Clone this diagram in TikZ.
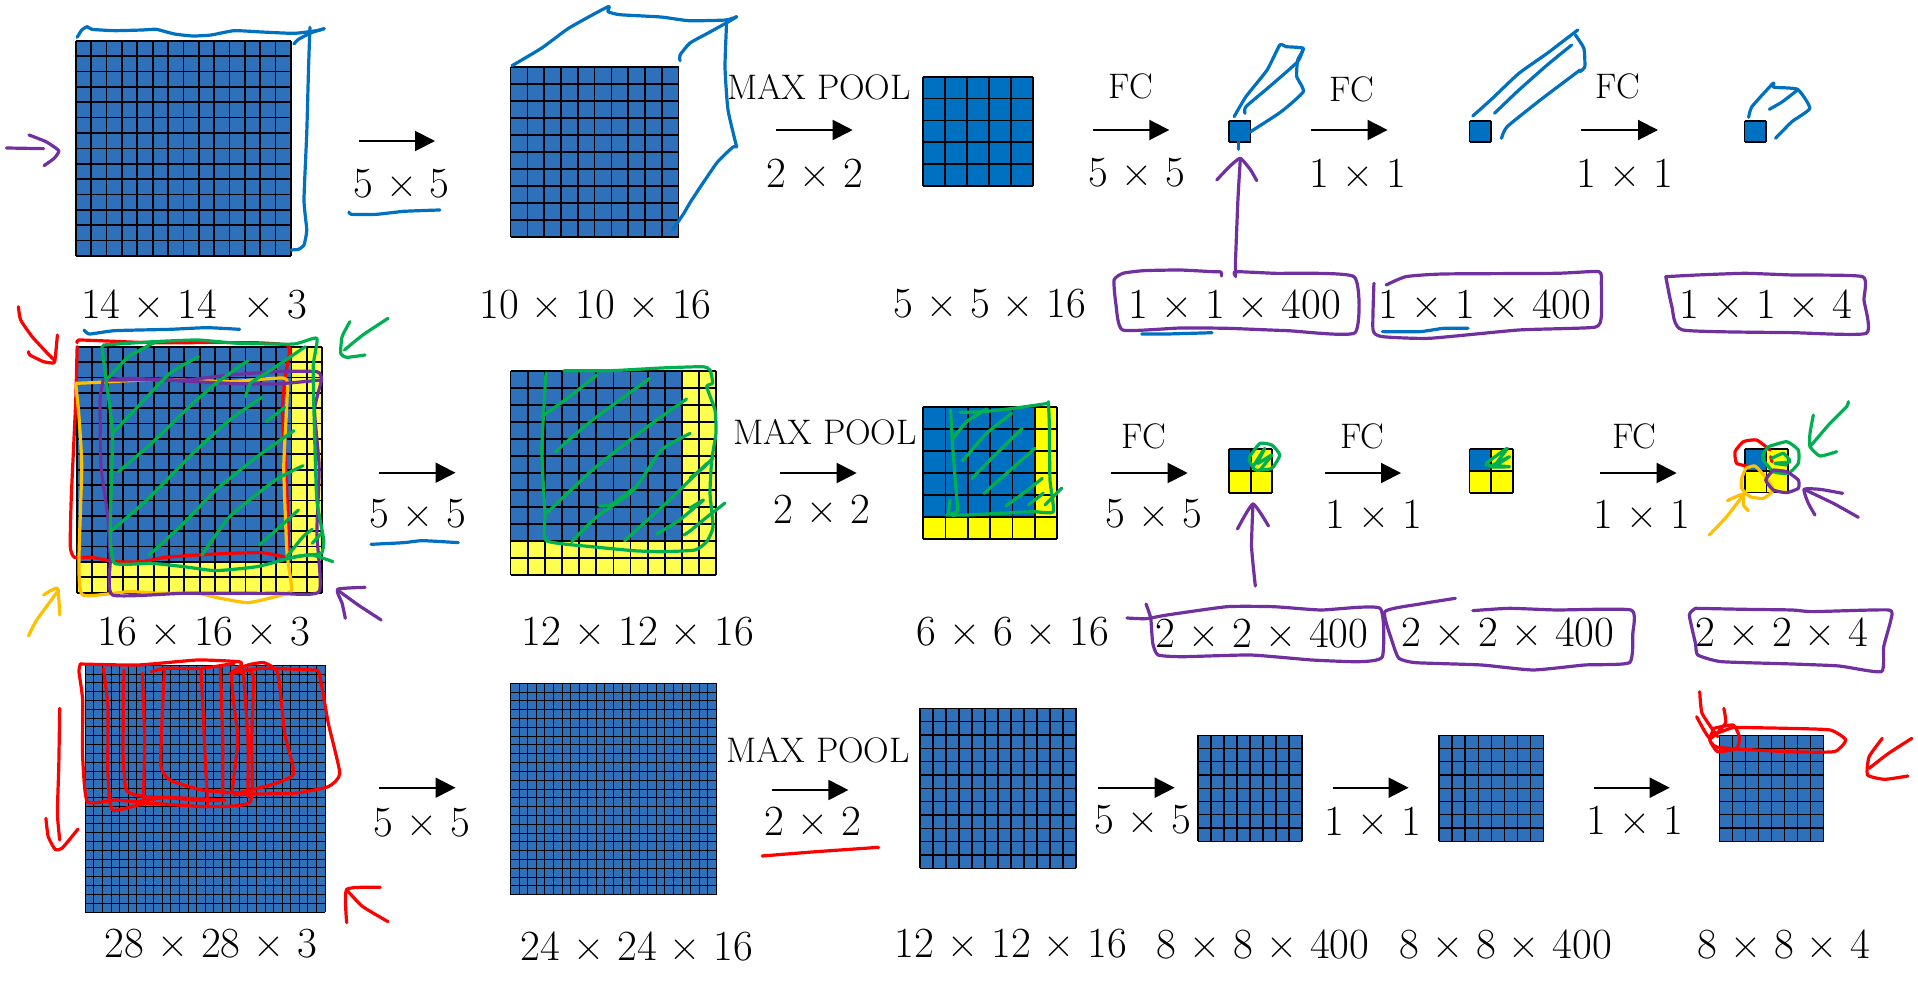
\documentclass[tikz,border=0pt]{standalone}
\usepackage{xcolor}
\usetikzlibrary{arrows.meta, positioning}
\definecolor{gridblue}{RGB}{46,112,186}
\definecolor{cellblue}{RGB}{0,112,192}
\definecolor{softyellow}{RGB}{255,255,80}
\definecolor{cellyellow}{RGB}{255,255,0}
\definecolor{inkblue}{RGB}{0,112,192}
\definecolor{inkpurple}{RGB}{112,48,160}
\definecolor{inkgreen}{RGB}{0,176,80}
\definecolor{inkred}{RGB}{255,0,0}
\definecolor{inkorange}{RGB}{255,192,0}
% lw, x0, y0, x1, y1, cells, blue cells, blue, yellow
\newcommand{\cellgrid}[9][1.7pt]{%
	\fill[#9] (#2,#3) rectangle (#4,#5);
	\fill[#8] (#2,#3) rectangle ({#2+#7*(#4-#2)/#6},{#3+#7*(#5-#3)/#6});
	\foreach \i in {0,...,#6} {
		\draw[line width=#1] ({#2+\i*(#4-#2)/#6},#3) -- ({#2+\i*(#4-#2)/#6},#5);
		\draw[line width=#1] (#2,{#3+\i*(#5-#3)/#6}) -- (#4,{#3+\i*(#5-#3)/#6});
	}
}
\newcommand{\ink}[2]{\draw[pen,#1] plot[smooth,tension=0.3] coordinates {#2};}
\begin{document}
\begin{tikzpicture}[
		x=1pt, y=-1pt,
		pen/.style={line width=3.2pt, line cap=round, line join=round},
		dimlabel/.style={font=\fontsize{43}{48}\selectfont, inner sep=0pt},
		oplabel/.style={font=\fontsize{35.5}{40}\selectfont, inner sep=0pt},
		flowarrow/.style={-{Triangle[length=20pt,width=20pt]}, line width=2pt},
		leftzoom/.style={x=0.4592pt, y=-0.3333pt},
		rightzoom/.style={x=0.4707pt, y=-0.3333pt},
		wholezoom/.style={x=0.3333pt, y=-0.3333pt},
		lowzoom/.style={x=0.7768pt, y=-0.3333pt}
	]
	\useasboundingbox (0,0) rectangle (1918,980);
	% top row
	\cellgrid{75.8}{40.7}{291}{256}{14}{14}{gridblue}{softyellow}
	\cellgrid{510.6}{66.7}{678.6}{236.7}{10}{10}{gridblue}{softyellow}
	\cellgrid{923.3}{76.7}{1032.7}{186}{5}{5}{cellblue}{cellyellow}
	\cellgrid{1229}{120.7}{1250.6}{142.3}{1}{1}{cellblue}{cellyellow}
	\cellgrid{1469.5}{120.7}{1490.7}{142.3}{1}{1}{cellblue}{cellyellow}
	\cellgrid{1744.5}{120.7}{1766}{142.3}{1}{1}{cellblue}{cellyellow}
	% middle row
	\cellgrid{77}{346.7}{322.3}{592.7}{16}{14}{gridblue}{softyellow}
	\cellgrid{510.6}{370.7}{716.3}{575.3}{12}{10}{gridblue}{softyellow}
	\cellgrid{923.3}{406.7}{1057.3}{539}{6}{5}{cellblue}{cellyellow}
	\cellgrid{1229}{448.7}{1272.3}{493.3}{2}{1}{cellblue}{cellyellow}
	\cellgrid{1469.5}{448.7}{1512.9}{493.3}{2}{1}{cellblue}{cellyellow}
	\cellgrid{1745}{449}{1788}{492.5}{2}{1}{cellblue}{cellyellow}
	% bottom row
	\cellgrid[1pt]{85.4}{665.3}{325}{912}{28}{28}{gridblue}{softyellow}
	\cellgrid[1pt]{510.6}{683.3}{716.3}{894.7}{24}{24}{gridblue}{softyellow}
	\cellgrid[1.3pt]{920}{708.3}{1076}{868.3}{12}{12}{gridblue}{softyellow}
	\cellgrid[1.3pt]{1198}{735.3}{1302}{841.3}{8}{8}{gridblue}{softyellow}
	\cellgrid[1.3pt]{1438.9}{735.3}{1543.8}{841.3}{8}{8}{gridblue}{softyellow}
	\cellgrid[1.3pt]{1719.4}{735.3}{1823.5}{841.3}{8}{8}{gridblue}{softyellow}

	\foreach \name/\xa/\xb/\yy in {a1/359/435/141, a2/776/852.7/130, a3/1093.3/1169.3/130, a4/1310.9/1387.6/130, a5/1581/1658/130,
		b1/378.8/455.5/472.7, b2/780/856.7/473, b3/1111/1187.7/473, b4/1325/1401/473, b5/1600/1676.7/473,
		c1/378.8/455.5/787.7, c2/772/848.4/790, c3/1097.8/1174.7/787.7, c4/1332.5/1408.6/787.7, c5/1593.5/1669.7/787.7} {
		\coordinate (\name s) at (\xa,\yy);
		\coordinate (\name e) at (\xb,\yy);
		\draw[flowarrow] (\name s) -- (\name e);
	}

	\node[dimlabel] (d1) at (194,304) {14 × 14\ \ × 3};
	\node[dimlabel] (d2) at (595.5,304.5) {10 × 10 × 16};
	\node[dimlabel] (d3) at (990,304) {5 × 5 × 16};
	\node[dimlabel] (d4) at (1234.7,304) {1 × 1 × 400};
	\node[dimlabel] (d5) at (1485,304) {1 × 1 × 400};
	\node[dimlabel] (d6) at (1766,304) {1 × 1 × 4};
	\node[dimlabel] (d7) at (204,632) {16 × 16 × 3};
	\node[dimlabel] (d8) at (638,632) {12 × 12 × 16};
	\node[dimlabel] (d9) at (1013,632) {6 × 6 × 16};
	\node[dimlabel] (d10) at (1262,633) {2 × 2 × 400};
	\node[dimlabel] (d11) at (1508,632) {2 × 2 × 400};
	\node[dimlabel] (d12) at (1782,632) {2 × 2 × 4};
	\node[dimlabel] (d13) at (211,944) {28 × 28 × 3};
	\node[dimlabel] (d14) at (637,946) {24 × 24 × 16};
	\node[dimlabel] (d15) at (1011,944) {12 × 12 × 16};
	\node[dimlabel] (d16) at (1263,944.5) {8 × 8 × 400};
	\node[dimlabel] (d17) at (1505.7,944.5) {8 × 8 × 400};
	\node[dimlabel] (d18) at (1784,944) {8 × 8 × 4};

	\node[dimlabel] (k1) at (401.5,184) {5 × 5};
	\node[dimlabel] (k2) at (815,173) {2 × 2};
	\node[dimlabel] (k3) at (1137,173) {5 × 5};
	\node[dimlabel] (k4) at (1358,173) {1 × 1};
	\node[dimlabel] (k5) at (1625,173) {1 × 1};
	\node[dimlabel] (k6) at (418,514) {5 × 5};
	\node[dimlabel] (k7) at (822,509) {2 × 2};
	\node[dimlabel] (k8) at (1154,514) {5 × 5};
	\node[dimlabel] (k9) at (1374,514) {1 × 1};
	\node[dimlabel] (k10) at (1642,514) {1 × 1};
	\node[dimlabel] (k11) at (422,823) {5 × 5};
	\node[dimlabel] (k12) at (812.6,821) {2 × 2};
	\node[dimlabel] (k13) at (1143,819.5) {5 × 5};
	\node[dimlabel] (k14) at (1373,821) {1 × 1};
	\node[dimlabel] (k15) at (1635,820) {1 × 1};

	\node[oplabel] (m1) at (819,87) {MAX POOL};
	\node[oplabel] (m2) at (825,432) {MAX POOL};
	\node[oplabel] (m3) at (818,750) {MAX POOL};
	\node[oplabel] (f1) at (1131,86) {FC};
	\node[oplabel] (f2) at (1352,89) {FC};
	\node[oplabel] (f3) at (1618,86) {FC};
	\node[oplabel] (f4) at (1144,436) {FC};
	\node[oplabel] (f5) at (1362.5,436) {FC};
	\node[oplabel] (f6) at (1634.5,436) {FC};

	% pen strokes, top left
	\begin{scope}[leftzoom]
		\ink{inkblue}{(168,112)(178,90)(190,80)(200,88)(250,92)(310,90)(340,88)(380,102)(420,108)(460,105)(510,92)(570,96)(640,100)(690,92)(706,86)}
		\ink{inkblue}{(640,132)(650,118)(678,98)(706,86)}
		\ink{inkblue}{(675,82)(672,200)(668,400)(662,600)(668,690)(662,735)(650,748)(634,750)}
		\ink{inkpurple}{(14,444)(95,446)}
		\ink{inkpurple}{(63,405)(100,425)(128,452)(118,475)(96,497)}
		\ink{inkblue}{(760,636)(765,643)(820,643)(880,634)(958,630)}
	\end{scope}
	\ink{inkblue}{(512,65.7)(541.8,48)(569,28)(608,6.7)(608,11.7)(620,14.7)(661,17)(689,20.7)(726,20)(736.7,16.7)}
	\ink{inkblue}{(680,60.7)(680,55)(690,43)(710,32)(728,22)(736.7,16.7)}
	\ink{inkblue}{(726.7,20)(725,67)(728,110)(736.7,147)}
	\ink{inkblue}{(736,147)(733,147)(716.7,163)(691.7,200)(684,213)(672.6,230)}

	% pen strokes, middle left
	\begin{scope}[leftzoom, shift={(0pt,-300pt)}]
		\ink{inkblue}{(183,90)(195,102)(250,92)(370,88)(450,83)(522,88)}
		\ink{inkred}{(168,128)(172,120)(250,124)(330,128)(550,128)(625,135)(630,160)(620,240)(615,330)(622,500)(628,700)(625,770)(610,768)(570,758)(500,760)(430,765)(360,772)(310,785)(250,785)(200,772)(162,772)(153,740)(155,600)(160,450)(165,300)(168,140)}
		\ink{inkred}{(40,20)(45,60)(70,110)(100,155)(118,180)}
		\ink{inkred}{(125,105)(122,150)(118,188)(95,185)(65,165)(62,155)}
		\ink{inkorange}{(165,250)(200,248)(350,238)(500,245)(620,235)(625,300)(618,500)(625,760)(635,870)(600,890)(540,908)(480,895)(430,880)(350,880)(280,875)(180,885)(172,780)(178,500)(172,350)(165,250)}
		\ink{inkorange}{(62,1008)(80,960)(128,870)}
		\ink{inkorange}{(95,885)(125,865)(130,945)}
		\ink{inkpurple}{(225,240)(280,235)(400,240)(500,225)(600,215)(690,215)(700,240)(685,330)(695,500)(690,700)(695,875)(600,880)(400,880)(245,885)(240,780)(235,650)(220,500)(218,300)(225,240)}
		\ink{inkpurple}{(230,240)(350,240)(500,250)(600,252)(700,240)}
		\ink{inkpurple}{(830,960)(780,915)(735,870)}
		\ink{inkpurple}{(795,862)(735,868)(745,910)(752,955)}
		\ink{inkgreen}{(225,135)(335,125)(430,120)(520,130)(640,132)(690,115)(682,200)(685,400)(690,600)(705,720)(700,760)(670,765)(630,775)(560,800)(470,812)(400,800)(330,790)(250,790)(240,700)(245,400)(232,250)(222,140)}
		\ink{inkgreen}{(640,770)(680,765)(725,785)}
		\ink{inkgreen}{(845,55)(790,105)(750,150)}
		\ink{inkgreen}{(762,65)(745,110)(742,160)(755,172)(795,165)}
		\ink{inkgreen}{(340,125)(280,170)(235,235)}
		\ink{inkgreen}{(245,400)(300,320)(370,220)(432,170)}
		\ink{inkgreen}{(258,515)(330,430)(420,310)(480,240)(540,182)}
		\ink{inkgreen}{(240,695)(320,600)(420,460)(500,360)(570,292)}
		\ink{inkgreen}{(325,765)(400,670)(470,570)(560,470)(640,392)}
		\ink{inkgreen}{(440,765)(500,650)(600,540)(660,497)}
		\ink{inkgreen}{(565,735)(610,680)(650,630)}
		\ink{inkgreen}{(625,770)(660,710)(680,688)}
		\ink{inkgreen}{(680,730)(700,700)}
		\ink{inkgreen}{(580,365)(620,322)}
		\ink{inkgreen}{(535,290)(545,250)(590,210)(665,140)}
		\ink{inkblue}{(808,733)(880,728)(920,722)(998,728)}
		\ink{inkgreen}{(1180,350)(1240,290)(1300,225)}
		\ink{inkgreen}{(1210,455)(1290,360)(1415,235)}
		\ink{inkgreen}{(1190,640)(1290,510)(1400,390)(1495,297)}
		\ink{inkgreen}{(1245,725)(1300,650)(1380,570)(1440,450)(1503,400)}
		\ink{inkgreen}{(1305,618)(1330,615)(1380,565)}
		\ink{inkgreen}{(1360,722)(1450,610)(1540,490)}
		\ink{inkgreen}{(1430,702)(1480,660)(1532,600)}
	\end{scope}
	\ink{inkgreen}{(564,370.7)(610.6,370.7)(661,368)(702.5,366.7)(710,370)(712.7,383)(706.7,386.7)(715,410)(716,433)(711.7,460)(710,493)(713,527)(706.7,541.7)(695,550)(661,551.7)(633.6,550.7)(592,546.7)(546.4,540.7)(545,513)(541.8,450)(546,373)}
	\ink{inkgreen}{(690,478)(703,468)(713,458)}
	\ink{inkgreen}{(690,508)(703,500)}
	\ink{inkgreen}{(684,535)(690,531)(707,517)(725,503)}

	\begin{scope}[wholezoom, shift={(700pt,-380pt)}]
		\ink{inkgreen}{(752,90)(758,200)(770,350)(772,395)(740,405)(800,405)(900,400)(1000,395)(1060,395)(1050,300)(1048,130)(1045,65)}
		\ink{inkgreen}{(780,97)(850,95)(940,85)(1045,70)}
		\ink{inkgreen}{(750,360)(745,400)}
		\ink{inkgreen}{(760,175)(800,125)(860,87)}
		\ink{inkgreen}{(788,242)(860,160)(935,100)}
		\ink{inkgreen}{(815,296)(880,230)(965,147)}
		\ink{inkgreen}{(852,340)(920,280)(1005,205)}
		\ink{inkgreen}{(918,378)(970,340)(1027,295)}
		\ink{inkgreen}{(985,375)(1030,340)}
		\ink{inkgreen}{(1035,375)(1085,325)}
	\end{scope}

	% pen strokes, top right
	\ink{inkpurple}{(1221.5,276)(1221,272)(1213,271.7)(1180,270)(1143,270.7)(1123,273.3)(1114,280)(1116,305)(1122.7,330)(1180,328)(1227,328.3)(1288,330.7)(1355,332.7)(1354,276.7)(1274,273.3)(1235.5,271.7)(1235.5,276)}
	\ink{inkblue}{(1141.7,334)(1166.7,334)(1212,332.7)}
	\begin{scope}[rightzoom, shift={(1180pt,0pt)}]
		\ink{inkpurple}{(118,830)(118,780)(123,600)(128,480)}
		\ink{inkpurple}{(78,540)(105,500)(128,475)(150,510)(163,542)}
		\ink{inkblue}{(125,425)(125,448)}
		\ink{inkblue}{(115,350)(140,290)(185,210)(212,135)(225,140)(262,145)(250,180)(248,230)(262,275)(215,335)(150,395)}
		\ink{inkblue}{(262,145)(250,185)(190,260)(140,320)(138,340)}
		\ink{inkblue}{(622,348)(660,300)(720,220)(780,160)(845,90)}
		\ink{inkblue}{(840,105)(858,145)(860,200)(850,215)}
		\ink{inkblue}{(668,340)(720,270)(780,195)(832,135)}
		\ink{inkblue}{(683,415)(695,380)(770,295)(850,210)}
		\ink{inkblue}{(1208,352)(1215,320)(1260,250)(1262,262)(1312,268)(1338,325)(1300,365)(1265,415)}
		\ink{inkblue}{(1252,328)(1280,305)(1312,270)}
		\ink{inkblue}{(430,995)(510,995)(560,985)(612,985)}
		\ink{inkpurple}{(412,850)(410,990)(430,1010)(530,1015)(720,990)(880,982)(895,950)(895,850)(890,815)(800,820)(560,822)(480,830)(438,855)}
		\ink{inkpurple}{(1032,830)(1100,825)(1200,820)(1300,825)(1450,830)(1453,900)(1458,1000)(1300,998)(1068,990)(1045,920)(1032,830)}
	\end{scope}

	% pen strokes, middle right
	\ink{inkpurple}{(1127,618)(1146,618.7)(1167,615)(1227,606.7)(1274,606.7)(1321,610)(1380,608.3)(1382.4,656.7)(1359,661.7)(1312,660)(1250.6,655)(1183,656.7)(1158,655)(1152.7,643)(1150.7,618)(1146,604)}
	\begin{scope}[rightzoom, shift={(1180pt,-380pt)}]
		\ink{inkpurple}{(160,618)(152,500)(155,372)}
		\ink{inkpurple}{(122,447)(155,372)(188,438)}
		\ink{inkgreen}{(150,225)(170,190)(195,195)(212,225)(195,265)(160,270)(147,240)(150,225)}
		\ink{inkgreen}{(155,260)(180,205)(165,250)(195,225)(170,270)}
		\ink{inkgreen}{(650,250)(695,205)(670,255)(700,230)(660,260)(700,260)(650,255)}
		\ink{inkpurple}{(585,655)(510,672)(435,695)(452,790)(465,835)(500,848)(640,855)(750,870)(860,855)(955,848)(962,760)(958,690)(800,690)(700,685)(622,692)}
		\ink{inkpurple}{(1095,685)(1082,705)(1095,790)(1100,825)(1150,845)(1300,852)(1400,858)(1490,875)(1495,800)(1510,720)(1505,690)(1345,695)(1300,690)(1200,688)(1095,685)}
	\end{scope}
	\begin{scope}[wholezoom, shift={(1600pt,-400pt)}]
		\ink{inkred}{(510,150)(470,120)(430,125)(405,155)(410,190)(450,200)}
		\ink{inkred}{(512,170)(516,185)}
		\ink{inkorange}{(437,205)(465,198)(495,230)(520,270)(490,295)(450,290)(425,265)(425,235)(437,205)}
		\ink{inkgreen}{(505,140)(560,125)(595,150)(595,190)(565,220)(520,215)(490,180)(490,160)(505,140)}
		\ink{inkgreen}{(515,175)(550,160)(570,185)(525,190)(560,195)}
		\ink{inkpurple}{(520,210)(560,215)(595,240)(595,265)(560,278)(520,270)(497,240)(520,210)}
		\ink{inkgreen}{(745,5)(740,20)(690,70)(630,140)}
		\ink{inkgreen}{(640,45)(630,100)(630,140)(660,168)(710,155)}
		\ink{inkpurple}{(775,352)(700,310)(612,268)}
		\ink{inkpurple}{(728,280)(660,268)(612,268)(625,310)(645,345)}
		\ink{inkorange}{(328,405)(380,350)(430,285)}
		\ink{inkorange}{(382,302)(430,282)(430,315)(445,332)}
	\end{scope}

	% pen strokes, bottom row
	\begin{scope}[leftzoom, shift={(0pt,-640pt)}]
		\ink{inkred}{(175,72)(172,95)(180,180)(180,350)(190,485)(250,480)(300,485)(360,472)(420,480)(490,482)}
		\ink{inkred}{(175,72)(300,75)(430,60)(520,65)(525,75)(505,100)(540,90)(552,115)(548,300)(545,485)(450,500)(320,490)(245,510)(235,400)(235,200)(225,85)}
		\ink{inkred}{(270,90)(268,330)(275,450)(315,470)(420,475)(490,480)}
		\ink{inkred}{(310,100)(315,300)(312,490)}
		\ink{inkred}{(330,95)(360,85)(440,85)(510,70)}
		\ink{inkred}{(358,90)(350,370)(370,420)(440,450)(520,458)(600,430)(640,400)(620,280)(605,100)(575,68)(540,75)(505,100)(510,200)(518,300)(505,460)}
		\ink{inkred}{(438,85)(445,300)(452,495)}
		\ink{inkred}{(480,80)(485,300)(485,465)}
		\ink{inkred}{(530,95)(540,300)(540,470)}
		\ink{inkred}{(500,100)(570,85)(680,90)(695,100)(715,250)(740,400)(715,440)(640,460)(540,462)(510,465)}
		\ink{inkred}{(130,205)(128,380)(125,520)(130,600)}
		\ink{inkred}{(100,535)(105,590)(120,628)(135,625)(170,567)}
		\ink{inkred}{(845,845)(790,800)(755,750)}
		\ink{inkred}{(828,742)(755,748)(755,848)}
	\end{scope}
	\begin{scope}[lowzoom, shift={(700pt,-640pt)}]
		\ink{inkred}{(80,648)(150,635)(230,622)}
		\ink{inkred}{(1287,155)(1290,220)(1310,290)}
		\ink{inkred}{(1283,230)(1300,295)(1320,250)(1318,205)}
		\ink{inkred}{(1305,265)(1330,255)(1338,290)(1335,325)(1310,335)(1300,300)(1305,265)}
		\ink{inkred}{(1330,262)(1400,265)(1455,270)(1475,300)(1460,335)(1400,335)(1310,322)(1300,290)(1330,262)}
		\ink{inkred}{(1560,295)(1530,340)(1505,385)}
		\ink{inkred}{(1522,295)(1505,350)(1503,405)(1525,418)(1555,408)}
	\end{scope}
\end{tikzpicture}
\end{document}
